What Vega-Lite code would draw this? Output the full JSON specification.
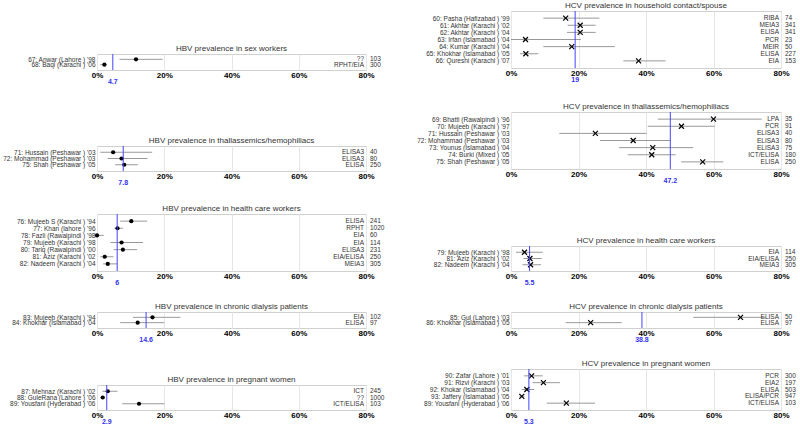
{
  "$schema": "https://vega.github.io/schema/vega-lite/v6.json",
  "padding": {"left": 2, "top": 1, "right": 0, "bottom": 0},
  "datasets": {
    "studies": [
      {"panel": "hbv_sw", "order": 1, "label": "67: Anwar (Lahore ) '98", "est": 11.6, "lo": 6.7, "hi": 19.5, "method": "??", "n": 103},
      {"panel": "hbv_sw", "order": 2, "label": "68: Baqi (Karachi ) '06", "est": 2.2, "lo": 1.0, "hi": 3.0, "method": "RPHT/EIA", "n": 300},
      {"panel": "hbv_th", "order": 1, "label": "71: Hussain (Peshawar ) '03", "est": 4.8, "lo": 1.0, "hi": 16.4, "method": "ELISA3", "n": 40},
      {"panel": "hbv_th", "order": 2, "label": "72: Mohammad (Peshawar ) '03", "est": 7.3, "lo": 3.2, "hi": 15.0, "method": "ELISA3", "n": 80},
      {"panel": "hbv_th", "order": 3, "label": "75: Shah (Peshawar ) '05", "est": 8.1, "lo": 5.4, "hi": 12.2, "method": "ELISA", "n": 250},
      {"panel": "hbv_hcw", "order": 1, "label": "76: Mujeeb S (Karachi ) '94", "est": 10.2, "lo": 6.9, "hi": 14.9, "method": "ELISA", "n": 241},
      {"panel": "hbv_hcw", "order": 2, "label": "77: Khan (lahore ) '96", "est": 6.1, "lo": 5.2, "hi": 7.7, "method": "RPHT", "n": 1020},
      {"panel": "hbv_hcw", "order": 3, "label": "78: Fazli (Rawalpindi ) '98", "est": 0.0, "lo": 0.0, "hi": 2.0, "method": "EIA", "n": 60},
      {"panel": "hbv_hcw", "order": 4, "label": "79: Mujeeb (Karachi ) '98", "est": 7.3, "lo": 4.0, "hi": 13.7, "method": "EIA", "n": 114},
      {"panel": "hbv_hcw", "order": 5, "label": "80: Tariq (Rawalpindi ) '00", "est": 7.7, "lo": 4.9, "hi": 11.9, "method": "ELISA3", "n": 231},
      {"panel": "hbv_hcw", "order": 6, "label": "81: Aziz (Karachi ) '02", "est": 2.3, "lo": 1.0, "hi": 4.9, "method": "EIA/ELISA", "n": 250},
      {"panel": "hbv_hcw", "order": 7, "label": "82: Nadeem (Karachi ) '04", "est": 3.2, "lo": 1.8, "hi": 6.0, "method": "MEIA3", "n": 305},
      {"panel": "hbv_dia", "order": 1, "label": "83: Mujeeb (Karachi ) '94", "est": 16.5, "lo": 10.7, "hi": 24.8, "method": "EIA", "n": 102},
      {"panel": "hbv_dia", "order": 2, "label": "84: Khokhar (Islamabad ) '04", "est": 12.1, "lo": 6.9, "hi": 20.0, "method": "ELISA", "n": 97},
      {"panel": "hbv_pw", "order": 1, "label": "87: Mehnaz (Karachi ) '02", "est": 3.2, "lo": 1.6, "hi": 6.1, "method": "ICT", "n": 245},
      {"panel": "hbv_pw", "order": 2, "label": "88: GuleRana (Lahore ) '06", "est": 1.7, "lo": 1.0, "hi": 2.2, "method": "??", "n": 1000},
      {"panel": "hbv_pw", "order": 3, "label": "89: Yousfani (Hyderabad ) '06", "est": 12.5, "lo": 7.5, "hi": 20.1, "method": "ICT/ELISA", "n": 103},
      {"panel": "hcv_hh", "order": 1, "label": "60: Pasha (Hafizabad ) '99", "est": 16.2, "lo": 9.6, "hi": 26.2, "method": "RIBA", "n": 74},
      {"panel": "hcv_hh", "order": 2, "label": "61: Akhtar (Karachi ) '02", "est": 20.5, "lo": 16.8, "hi": 25.1, "method": "MEIA3", "n": 341},
      {"panel": "hcv_hh", "order": 3, "label": "62: Akhtar (Karachi ) '04", "est": 20.5, "lo": 16.6, "hi": 25.1, "method": "ELISA", "n": 341},
      {"panel": "hcv_hh", "order": 4, "label": "63: Irfan (Islamabad ) '04", "est": 4.3, "lo": 0.0, "hi": 20.7, "method": "PCR", "n": 23},
      {"panel": "hcv_hh", "order": 5, "label": "64: Kumar (Karachi ) '04", "est": 18.0, "lo": 9.6, "hi": 30.8, "method": "MEIR", "n": 50},
      {"panel": "hcv_hh", "order": 6, "label": "65: Khokhar (Islamabad ) '05", "est": 4.4, "lo": 2.7, "hi": 8.1, "method": "ELISA", "n": 227},
      {"panel": "hcv_hh", "order": 7, "label": "66: Qureshi (Karachi ) '07", "est": 37.8, "lo": 33.3, "hi": 45.8, "method": "EIA", "n": 153},
      {"panel": "hcv_th", "order": 1, "label": "69: Bhatti (Rawalpindi ) '96", "est": 60.0, "lo": 43.5, "hi": 74.3, "method": "LPA", "n": 35},
      {"panel": "hcv_th", "order": 2, "label": "70: Mujeeb (Karachi ) '97", "est": 50.5, "lo": 40.5, "hi": 60.4, "method": "PCR", "n": 91},
      {"panel": "hcv_th", "order": 3, "label": "71: Hussain (Peshawar ) '03", "est": 25.0, "lo": 14.3, "hi": 40.2, "method": "ELISA3", "n": 40},
      {"panel": "hcv_th", "order": 4, "label": "72: Mohammad (Peshawar ) '03", "est": 36.2, "lo": 26.4, "hi": 47.1, "method": "ELISA3", "n": 80},
      {"panel": "hcv_th", "order": 5, "label": "73: Younus (Islamabad ) '04", "est": 42.0, "lo": 32.0, "hi": 54.0, "method": "ELISA3", "n": 75},
      {"panel": "hcv_th", "order": 6, "label": "74: Burki (Mixed ) '05", "est": 41.7, "lo": 34.6, "hi": 48.8, "method": "ICT/ELISA", "n": 180},
      {"panel": "hcv_th", "order": 7, "label": "75: Shah (Peshawar ) '05", "est": 56.8, "lo": 50.4, "hi": 62.9, "method": "ELISA", "n": 250},
      {"panel": "hcv_hcw", "order": 1, "label": "79: Mujeeb (Karachi ) '98", "est": 4.0, "lo": 1.5, "hi": 9.4, "method": "EIA", "n": 114},
      {"panel": "hcv_hcw", "order": 2, "label": "81: Aziz (Karachi ) '02", "est": 5.6, "lo": 3.7, "hi": 9.1, "method": "EIA/ELISA", "n": 250},
      {"panel": "hcv_hcw", "order": 3, "label": "82: Nadeem (Karachi ) '04", "est": 5.8, "lo": 3.4, "hi": 8.9, "method": "MEIA3", "n": 305},
      {"panel": "hcv_dia", "order": 1, "label": "85: Gul (Lahore ) '03", "est": 68.0, "lo": 54.0, "hi": 75.5, "method": "ELISA", "n": 50},
      {"panel": "hcv_dia", "order": 2, "label": "86: Khokhar (Islamabad ) '05", "est": 23.6, "lo": 16.2, "hi": 32.8, "method": "ELISA", "n": 97},
      {"panel": "hcv_pw", "order": 1, "label": "90:  Zafar (Lahore ) '01", "est": 6.1, "lo": 3.9, "hi": 9.4, "method": "PCR", "n": 300},
      {"panel": "hcv_pw", "order": 2, "label": "91: Rizvi (Karachi ) '03", "est": 9.6, "lo": 6.4, "hi": 14.5, "method": "EIA2", "n": 197},
      {"panel": "hcv_pw", "order": 3, "label": "92: Khokar (Islamabad ) '04", "est": 4.7, "lo": 3.2, "hi": 6.9, "method": "ELISA", "n": 503},
      {"panel": "hcv_pw", "order": 4, "label": "93: Jaffery (Islamabad ) '05", "est": 3.2, "lo": 2.5, "hi": 4.0, "method": "ELISA/PCR", "n": 947},
      {"panel": "hcv_pw", "order": 5, "label": "89: Yousfani (Hyderabad ) '06", "est": 16.4, "lo": 10.6, "hi": 24.9, "method": "ICT/ELISA", "n": 103}
    ],
    "pooled": [
      {"panel": "hbv_sw", "pooled": 4.7, "label": "4.7"},
      {"panel": "hbv_th", "pooled": 7.8, "label": "7.8"},
      {"panel": "hbv_hcw", "pooled": 6, "label": "6"},
      {"panel": "hbv_dia", "pooled": 14.6, "label": "14.6"},
      {"panel": "hbv_pw", "pooled": 2.9, "label": "2.9"},
      {"panel": "hcv_hh", "pooled": 19, "label": "19"},
      {"panel": "hcv_th", "pooled": 47.2, "label": "47.2"},
      {"panel": "hcv_hcw", "pooled": 5.5, "label": "5.5"},
      {"panel": "hcv_dia", "pooled": 38.8, "label": "38.8"},
      {"panel": "hcv_pw", "pooled": 5.3, "label": "5.3"}
    ]
  },
  "hconcat": [
    {
      "vconcat": [
        {"width": 269, "height": 43, "data": {"values": []}, "mark": "point", "encoding": {}, "view": {"stroke": null}},
        {
          "width": 269, "height": 16, "title": "HBV prevalence in sex workers",
          "layer": [
            {"data": {"name": "studies"}, "transform": [{"filter": "datum.panel === 'hbv_sw'"}],
             "encoding": {"y": {"field": "label", "type": "nominal", "sort": {"field": "order"}, "scale": {"type": "point", "padding": 1}, "title": null}},
             "layer": [
               {"mark": {"type": "rule", "color": "#999999"}, "encoding": {"x": {"field": "lo", "type": "quantitative", "scale": {"domain": [0, 80], "nice": false}, "title": null, "axis": {"values": [0, 20, 40, 60, 80], "labelExpr": "datum.value + '%'"}}, "x2": {"field": "hi"}}},
               {"mark": {"type": "point", "filled": true, "color": "#000000", "size": 18, "opacity": 1}, "encoding": {"x": {"field": "est", "type": "quantitative", "title": null}}},
               {"mark": {"type": "text", "align": "right", "dx": -2, "fontSize": 6.5, "color": "#333333"}, "encoding": {"x": {"datum": 80}, "text": {"field": "method"}}},
               {"mark": {"type": "text", "align": "left", "dx": 4, "fontSize": 6.5, "color": "#333333"}, "encoding": {"x": {"datum": 80}, "text": {"field": "n"}}}
             ]},
            {"data": {"name": "pooled"}, "transform": [{"filter": "datum.panel === 'hbv_sw'"}],
             "layer": [
               {"mark": {"type": "rule", "color": "#4444ff"}, "encoding": {"x": {"field": "pooled", "type": "quantitative", "title": null}}},
               {"mark": {"type": "text", "color": "#3333ee", "fontWeight": "bold", "fontSize": 7, "baseline": "middle", "dy": 12}, "encoding": {"x": {"field": "pooled", "type": "quantitative", "title": null}, "y": {"value": "height"}, "text": {"field": "label"}}}
             ]}
          ]
        },
        {"width": 269, "height": 76, "data": {"values": []}, "mark": "point", "encoding": {}, "view": {"stroke": null}},
        {
          "width": 269, "height": 25, "title": "HBV prevalence in thallassemics/hemophiliacs",
          "layer": [
            {"data": {"name": "studies"}, "transform": [{"filter": "datum.panel === 'hbv_th'"}],
             "encoding": {"y": {"field": "label", "type": "nominal", "sort": {"field": "order"}, "scale": {"type": "point", "padding": 1}, "title": null}},
             "layer": [
               {"mark": {"type": "rule", "color": "#999999"}, "encoding": {"x": {"field": "lo", "type": "quantitative", "scale": {"domain": [0, 80], "nice": false}, "title": null, "axis": {"values": [0, 20, 40, 60, 80], "labelExpr": "datum.value + '%'"}}, "x2": {"field": "hi"}}},
               {"mark": {"type": "point", "filled": true, "color": "#000000", "size": 18, "opacity": 1}, "encoding": {"x": {"field": "est", "type": "quantitative", "title": null}}},
               {"mark": {"type": "text", "align": "right", "dx": -2, "fontSize": 6.5, "color": "#333333"}, "encoding": {"x": {"datum": 80}, "text": {"field": "method"}}},
               {"mark": {"type": "text", "align": "left", "dx": 4, "fontSize": 6.5, "color": "#333333"}, "encoding": {"x": {"datum": 80}, "text": {"field": "n"}}}
             ]},
            {"data": {"name": "pooled"}, "transform": [{"filter": "datum.panel === 'hbv_th'"}],
             "layer": [
               {"mark": {"type": "rule", "color": "#4444ff"}, "encoding": {"x": {"field": "pooled", "type": "quantitative", "title": null}}},
               {"mark": {"type": "text", "color": "#3333ee", "fontWeight": "bold", "fontSize": 7, "baseline": "middle", "dy": 12}, "encoding": {"x": {"field": "pooled", "type": "quantitative", "title": null}, "y": {"value": "height"}, "text": {"field": "label"}}}
             ]}
          ]
        },
        {"width": 269, "height": 43, "data": {"values": []}, "mark": "point", "encoding": {}, "view": {"stroke": null}},
        {
          "width": 269, "height": 57, "title": "HBV prevalence in health care workers",
          "layer": [
            {"data": {"name": "studies"}, "transform": [{"filter": "datum.panel === 'hbv_hcw'"}],
             "encoding": {"y": {"field": "label", "type": "nominal", "sort": {"field": "order"}, "scale": {"type": "point", "padding": 1}, "title": null}},
             "layer": [
               {"mark": {"type": "rule", "color": "#999999"}, "encoding": {"x": {"field": "lo", "type": "quantitative", "scale": {"domain": [0, 80], "nice": false}, "title": null, "axis": {"values": [0, 20, 40, 60, 80], "labelExpr": "datum.value + '%'"}}, "x2": {"field": "hi"}}},
               {"mark": {"type": "point", "filled": true, "color": "#000000", "size": 18, "opacity": 1}, "encoding": {"x": {"field": "est", "type": "quantitative", "title": null}}},
               {"mark": {"type": "text", "align": "right", "dx": -2, "fontSize": 6.5, "color": "#333333"}, "encoding": {"x": {"datum": 80}, "text": {"field": "method"}}},
               {"mark": {"type": "text", "align": "left", "dx": 4, "fontSize": 6.5, "color": "#333333"}, "encoding": {"x": {"datum": 80}, "text": {"field": "n"}}}
             ]},
            {"data": {"name": "pooled"}, "transform": [{"filter": "datum.panel === 'hbv_hcw'"}],
             "layer": [
               {"mark": {"type": "rule", "color": "#4444ff"}, "encoding": {"x": {"field": "pooled", "type": "quantitative", "title": null}}},
               {"mark": {"type": "text", "color": "#3333ee", "fontWeight": "bold", "fontSize": 7, "baseline": "middle", "dy": 12}, "encoding": {"x": {"field": "pooled", "type": "quantitative", "title": null}, "y": {"value": "height"}, "text": {"field": "label"}}}
             ]}
          ]
        },
        {"width": 269, "height": 41, "data": {"values": []}, "mark": "point", "encoding": {}, "view": {"stroke": null}},
        {
          "width": 269, "height": 16, "title": "HBV prevalence in chronic dialysis patients",
          "layer": [
            {"data": {"name": "studies"}, "transform": [{"filter": "datum.panel === 'hbv_dia'"}],
             "encoding": {"y": {"field": "label", "type": "nominal", "sort": {"field": "order"}, "scale": {"type": "point", "padding": 1}, "title": null}},
             "layer": [
               {"mark": {"type": "rule", "color": "#999999"}, "encoding": {"x": {"field": "lo", "type": "quantitative", "scale": {"domain": [0, 80], "nice": false}, "title": null, "axis": {"values": [0, 20, 40, 60, 80], "labelExpr": "datum.value + '%'"}}, "x2": {"field": "hi"}}},
               {"mark": {"type": "point", "filled": true, "color": "#000000", "size": 18, "opacity": 1}, "encoding": {"x": {"field": "est", "type": "quantitative", "title": null}}},
               {"mark": {"type": "text", "align": "right", "dx": -2, "fontSize": 6.5, "color": "#333333"}, "encoding": {"x": {"datum": 80}, "text": {"field": "method"}}},
               {"mark": {"type": "text", "align": "left", "dx": 4, "fontSize": 6.5, "color": "#333333"}, "encoding": {"x": {"datum": 80}, "text": {"field": "n"}}}
             ]},
            {"data": {"name": "pooled"}, "transform": [{"filter": "datum.panel === 'hbv_dia'"}],
             "layer": [
               {"mark": {"type": "rule", "color": "#4444ff"}, "encoding": {"x": {"field": "pooled", "type": "quantitative", "title": null}}},
               {"mark": {"type": "text", "color": "#3333ee", "fontWeight": "bold", "fontSize": 7, "baseline": "middle", "dy": 12}, "encoding": {"x": {"field": "pooled", "type": "quantitative", "title": null}, "y": {"value": "height"}, "text": {"field": "label"}}}
             ]}
          ]
        },
        {"width": 269, "height": 57, "data": {"values": []}, "mark": "point", "encoding": {}, "view": {"stroke": null}},
        {
          "width": 269, "height": 25, "title": "HBV prevalence in pregnant women",
          "layer": [
            {"data": {"name": "studies"}, "transform": [{"filter": "datum.panel === 'hbv_pw'"}],
             "encoding": {"y": {"field": "label", "type": "nominal", "sort": {"field": "order"}, "scale": {"type": "point", "padding": 1}, "title": null}},
             "layer": [
               {"mark": {"type": "rule", "color": "#999999"}, "encoding": {"x": {"field": "lo", "type": "quantitative", "scale": {"domain": [0, 80], "nice": false}, "title": null, "axis": {"values": [0, 20, 40, 60, 80], "labelExpr": "datum.value + '%'"}}, "x2": {"field": "hi"}}},
               {"mark": {"type": "point", "filled": true, "color": "#000000", "size": 18, "opacity": 1}, "encoding": {"x": {"field": "est", "type": "quantitative", "title": null}}},
               {"mark": {"type": "text", "align": "right", "dx": -2, "fontSize": 6.5, "color": "#333333"}, "encoding": {"x": {"datum": 80}, "text": {"field": "method"}}},
               {"mark": {"type": "text", "align": "left", "dx": 4, "fontSize": 6.5, "color": "#333333"}, "encoding": {"x": {"datum": 80}, "text": {"field": "n"}}}
             ]},
            {"data": {"name": "pooled"}, "transform": [{"filter": "datum.panel === 'hbv_pw'"}],
             "layer": [
               {"mark": {"type": "rule", "color": "#4444ff"}, "encoding": {"x": {"field": "pooled", "type": "quantitative", "title": null}}},
               {"mark": {"type": "text", "color": "#3333ee", "fontWeight": "bold", "fontSize": 7, "baseline": "middle", "dy": 12}, "encoding": {"x": {"field": "pooled", "type": "quantitative", "title": null}, "y": {"value": "height"}, "text": {"field": "label"}}}
             ]}
          ]
        }
      ],
      "spacing": 0, "bounds": "flush"
    },
    {
      "vconcat": [
        {
          "width": 270, "height": 57, "title": "HCV prevalence in household contact/spouse",
          "layer": [
            {"data": {"name": "studies"}, "transform": [{"filter": "datum.panel === 'hcv_hh'"}],
             "encoding": {"y": {"field": "label", "type": "nominal", "sort": {"field": "order"}, "scale": {"type": "point", "padding": 1}, "title": null}},
             "layer": [
               {"mark": {"type": "rule", "color": "#999999"}, "encoding": {"x": {"field": "lo", "type": "quantitative", "scale": {"domain": [0, 80], "nice": false}, "title": null, "axis": {"values": [0, 20, 40, 60, 80], "labelExpr": "datum.value + '%'"}}, "x2": {"field": "hi"}}},
               {"mark": {"type": "point", "shape": "M-1,-1L1,1M-1,1L1,-1", "filled": false, "color": "#000000", "strokeWidth": 1.2, "size": 25, "opacity": 1}, "encoding": {"x": {"field": "est", "type": "quantitative", "title": null}}},
               {"mark": {"type": "text", "align": "right", "dx": -2, "fontSize": 6.5, "color": "#333333"}, "encoding": {"x": {"datum": 80}, "text": {"field": "method"}}},
               {"mark": {"type": "text", "align": "left", "dx": 4, "fontSize": 6.5, "color": "#333333"}, "encoding": {"x": {"datum": 80}, "text": {"field": "n"}}}
             ]},
            {"data": {"name": "pooled"}, "transform": [{"filter": "datum.panel === 'hcv_hh'"}],
             "layer": [
               {"mark": {"type": "rule", "color": "#4444ff"}, "encoding": {"x": {"field": "pooled", "type": "quantitative", "title": null}}},
               {"mark": {"type": "text", "color": "#3333ee", "fontWeight": "bold", "fontSize": 7, "baseline": "middle", "dy": 12}, "encoding": {"x": {"field": "pooled", "type": "quantitative", "title": null}, "y": {"value": "height"}, "text": {"field": "label"}}}
             ]}
          ]
        },
        {"width": 270, "height": 44, "data": {"values": []}, "mark": "point", "encoding": {}, "view": {"stroke": null}},
        {
          "width": 270, "height": 57, "title": "HCV prevalence in thallassemics/hemophiliacs",
          "layer": [
            {"data": {"name": "studies"}, "transform": [{"filter": "datum.panel === 'hcv_th'"}],
             "encoding": {"y": {"field": "label", "type": "nominal", "sort": {"field": "order"}, "scale": {"type": "point", "padding": 1}, "title": null}},
             "layer": [
               {"mark": {"type": "rule", "color": "#999999"}, "encoding": {"x": {"field": "lo", "type": "quantitative", "scale": {"domain": [0, 80], "nice": false}, "title": null, "axis": {"values": [0, 20, 40, 60, 80], "labelExpr": "datum.value + '%'"}}, "x2": {"field": "hi"}}},
               {"mark": {"type": "point", "shape": "M-1,-1L1,1M-1,1L1,-1", "filled": false, "color": "#000000", "strokeWidth": 1.2, "size": 25, "opacity": 1}, "encoding": {"x": {"field": "est", "type": "quantitative", "title": null}}},
               {"mark": {"type": "text", "align": "right", "dx": -2, "fontSize": 6.5, "color": "#333333"}, "encoding": {"x": {"datum": 80}, "text": {"field": "method"}}},
               {"mark": {"type": "text", "align": "left", "dx": 4, "fontSize": 6.5, "color": "#333333"}, "encoding": {"x": {"datum": 80}, "text": {"field": "n"}}}
             ]},
            {"data": {"name": "pooled"}, "transform": [{"filter": "datum.panel === 'hcv_th'"}],
             "layer": [
               {"mark": {"type": "rule", "color": "#4444ff"}, "encoding": {"x": {"field": "pooled", "type": "quantitative", "title": null}}},
               {"mark": {"type": "text", "color": "#3333ee", "fontWeight": "bold", "fontSize": 7, "baseline": "middle", "dy": 12}, "encoding": {"x": {"field": "pooled", "type": "quantitative", "title": null}, "y": {"value": "height"}, "text": {"field": "label"}}}
             ]}
          ]
        },
        {"width": 270, "height": 77, "data": {"values": []}, "mark": "point", "encoding": {}, "view": {"stroke": null}},
        {
          "width": 270, "height": 25, "title": "HCV prevalence in health care workers",
          "layer": [
            {"data": {"name": "studies"}, "transform": [{"filter": "datum.panel === 'hcv_hcw'"}],
             "encoding": {"y": {"field": "label", "type": "nominal", "sort": {"field": "order"}, "scale": {"type": "point", "padding": 1}, "title": null}},
             "layer": [
               {"mark": {"type": "rule", "color": "#999999"}, "encoding": {"x": {"field": "lo", "type": "quantitative", "scale": {"domain": [0, 80], "nice": false}, "title": null, "axis": {"values": [0, 20, 40, 60, 80], "labelExpr": "datum.value + '%'"}}, "x2": {"field": "hi"}}},
               {"mark": {"type": "point", "shape": "M-1,-1L1,1M-1,1L1,-1", "filled": false, "color": "#000000", "strokeWidth": 1.2, "size": 25, "opacity": 1}, "encoding": {"x": {"field": "est", "type": "quantitative", "title": null}}},
               {"mark": {"type": "text", "align": "right", "dx": -2, "fontSize": 6.5, "color": "#333333"}, "encoding": {"x": {"datum": 80}, "text": {"field": "method"}}},
               {"mark": {"type": "text", "align": "left", "dx": 4, "fontSize": 6.5, "color": "#333333"}, "encoding": {"x": {"datum": 80}, "text": {"field": "n"}}}
             ]},
            {"data": {"name": "pooled"}, "transform": [{"filter": "datum.panel === 'hcv_hcw'"}],
             "layer": [
               {"mark": {"type": "rule", "color": "#4444ff"}, "encoding": {"x": {"field": "pooled", "type": "quantitative", "title": null}}},
               {"mark": {"type": "text", "color": "#3333ee", "fontWeight": "bold", "fontSize": 7, "baseline": "middle", "dy": 12}, "encoding": {"x": {"field": "pooled", "type": "quantitative", "title": null}, "y": {"value": "height"}, "text": {"field": "label"}}}
             ]}
          ]
        },
        {"width": 270, "height": 41, "data": {"values": []}, "mark": "point", "encoding": {}, "view": {"stroke": null}},
        {
          "width": 270, "height": 16, "title": "HCV prevalence in chronic dialysis patients",
          "layer": [
            {"data": {"name": "studies"}, "transform": [{"filter": "datum.panel === 'hcv_dia'"}],
             "encoding": {"y": {"field": "label", "type": "nominal", "sort": {"field": "order"}, "scale": {"type": "point", "padding": 1}, "title": null}},
             "layer": [
               {"mark": {"type": "rule", "color": "#999999"}, "encoding": {"x": {"field": "lo", "type": "quantitative", "scale": {"domain": [0, 80], "nice": false}, "title": null, "axis": {"values": [0, 20, 40, 60, 80], "labelExpr": "datum.value + '%'"}}, "x2": {"field": "hi"}}},
               {"mark": {"type": "point", "shape": "M-1,-1L1,1M-1,1L1,-1", "filled": false, "color": "#000000", "strokeWidth": 1.2, "size": 25, "opacity": 1}, "encoding": {"x": {"field": "est", "type": "quantitative", "title": null}}},
               {"mark": {"type": "text", "align": "right", "dx": -2, "fontSize": 6.5, "color": "#333333"}, "encoding": {"x": {"datum": 80}, "text": {"field": "method"}}},
               {"mark": {"type": "text", "align": "left", "dx": 4, "fontSize": 6.5, "color": "#333333"}, "encoding": {"x": {"datum": 80}, "text": {"field": "n"}}}
             ]},
            {"data": {"name": "pooled"}, "transform": [{"filter": "datum.panel === 'hcv_dia'"}],
             "layer": [
               {"mark": {"type": "rule", "color": "#4444ff"}, "encoding": {"x": {"field": "pooled", "type": "quantitative", "title": null}}},
               {"mark": {"type": "text", "color": "#3333ee", "fontWeight": "bold", "fontSize": 7, "baseline": "middle", "dy": 12}, "encoding": {"x": {"field": "pooled", "type": "quantitative", "title": null}, "y": {"value": "height"}, "text": {"field": "label"}}}
             ]}
          ]
        },
        {"width": 270, "height": 41, "data": {"values": []}, "mark": "point", "encoding": {}, "view": {"stroke": null}},
        {
          "width": 270, "height": 41, "title": "HCV prevalence in pregnant women",
          "layer": [
            {"data": {"name": "studies"}, "transform": [{"filter": "datum.panel === 'hcv_pw'"}],
             "encoding": {"y": {"field": "label", "type": "nominal", "sort": {"field": "order"}, "scale": {"type": "point", "padding": 1}, "title": null}},
             "layer": [
               {"mark": {"type": "rule", "color": "#999999"}, "encoding": {"x": {"field": "lo", "type": "quantitative", "scale": {"domain": [0, 80], "nice": false}, "title": null, "axis": {"values": [0, 20, 40, 60, 80], "labelExpr": "datum.value + '%'"}}, "x2": {"field": "hi"}}},
               {"mark": {"type": "point", "shape": "M-1,-1L1,1M-1,1L1,-1", "filled": false, "color": "#000000", "strokeWidth": 1.2, "size": 25, "opacity": 1}, "encoding": {"x": {"field": "est", "type": "quantitative", "title": null}}},
               {"mark": {"type": "text", "align": "right", "dx": -2, "fontSize": 6.5, "color": "#333333"}, "encoding": {"x": {"datum": 80}, "text": {"field": "method"}}},
               {"mark": {"type": "text", "align": "left", "dx": 4, "fontSize": 6.5, "color": "#333333"}, "encoding": {"x": {"datum": 80}, "text": {"field": "n"}}}
             ]},
            {"data": {"name": "pooled"}, "transform": [{"filter": "datum.panel === 'hcv_pw'"}],
             "layer": [
               {"mark": {"type": "rule", "color": "#4444ff"}, "encoding": {"x": {"field": "pooled", "type": "quantitative", "title": null}}},
               {"mark": {"type": "text", "color": "#3333ee", "fontWeight": "bold", "fontSize": 7, "baseline": "middle", "dy": 12}, "encoding": {"x": {"field": "pooled", "type": "quantitative", "title": null}, "y": {"value": "height"}, "text": {"field": "label"}}}
             ]}
          ]
        }
      ],
      "spacing": 0, "bounds": "flush"
    }
  ],
  "spacing": 414,
  "bounds": "flush",
  "config": {
    "font": "Liberation Sans",
    "view": {"stroke": "#d0d0d0"},
    "title": {"fontSize": 8, "fontWeight": "normal", "color": "#333333", "offset": 1, "anchor": "middle"},
    "axisX": {"labelFontWeight": "bold", "labelFontSize": 8, "labelColor": "#000000", "ticks": false, "domain": false, "gridColor": "#e6e6e6", "labelPadding": 1, "labelFlush": false},
    "axisY": {"ticks": false, "domain": false, "grid": false, "labelFontSize": 6.5, "labelColor": "#333333", "labelPadding": 2, "labelLimit": 0}
  }
}
